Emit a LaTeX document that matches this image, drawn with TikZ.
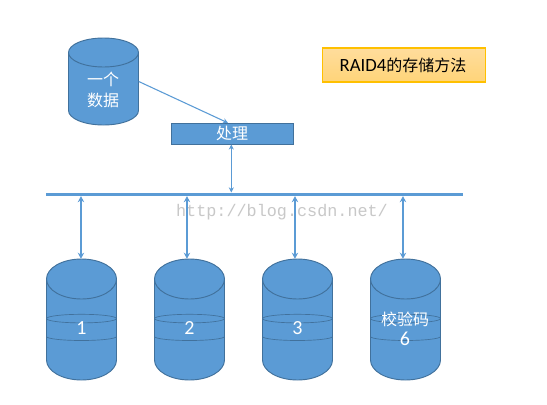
\documentclass[tikz,border=0pt]{standalone}
\usepackage{fontspec}
\setmainfont{Carlito}
\newfontfamily\cjk{Noto Sans CJK SC}
\newfontfamily\wmfont{Liberation Mono}
\usetikzlibrary{arrows.meta, positioning}
\definecolor{diskBlue}{HTML}{5B9BD5}
\definecolor{diskEdge}{HTML}{41719C}
\definecolor{noteEdge}{HTML}{FFC000}
\definecolor{noteTop}{HTML}{FFDD9C}
\definecolor{noteBot}{HTML}{FFD479}
\definecolor{wmGrey}{HTML}{C8C8C8}
\tikzset{
  diskbody/.style = {draw=diskEdge, fill=diskBlue, line width=0.7pt},
  diskslot/.style = {inner sep=0pt, minimum width=52.5pt},
  procbox/.style  = {draw=diskEdge, fill=diskBlue, line width=0.7pt, inner sep=0pt,
                     minimum width=91.5pt, minimum height=15.5pt},
  notebox/.style  = {draw=noteEdge, top color=noteTop, bottom color=noteBot, line width=0.8pt,
                     inner sep=0pt, minimum width=122pt, minimum height=25.5pt},
  busbar/.style   = {fill=diskBlue, inner sep=0pt, minimum width=312.75pt, minimum height=2.4pt},
  bandline/.style = {draw=diskEdge, line width=0.5pt},
  fatlink/.style  = {diskBlue, line width=1.5pt, {Stealth[length=4.5pt,width=4.8pt]}-{Stealth[length=4.5pt,width=4.8pt]}},
  thinlink/.style = {diskBlue, line width=0.8pt, {Stealth[length=3.8pt,width=3.8pt]}-{Stealth[length=3.8pt,width=3.8pt]}},
  lbl/.style      = {text=white, font=\fontsize{15}{17}\selectfont, inner sep=0pt},
  cjklbl/.style   = {text=white, font=\cjk\fontsize{12}{14}\selectfont, inner sep=0pt},
}
% centre x, y of top ellipse, y of bottom ellipse, y radius
\newcommand{\diskshape}[4]{
  \draw[diskbody] (#1-35,#2) arc [start angle=180, end angle=360, x radius=35, y radius=#4]
    -- (#1+35,#3) arc [start angle=0, end angle=180, x radius=35, y radius=#4] -- cycle;
  \draw[diskbody, fill=none] (#1-35,#2) arc [start angle=180, end angle=0, x radius=35, y radius=#4];
}

\begin{document}
\begin{tikzpicture}[x=0.75pt,y=-0.75pt]
  \useasboundingbox (0,0) rectangle (547,404);
  \fill[white] (0,0) rectangle (547,404);
  \node[text=wmGrey, inner sep=0pt, font=\wmfont\fontsize{12.6}{15}\selectfont] (mark) at (282,212) {http://blog.csdn.net/};
  \node[busbar] (bus) at (254.5,194.3) {};
  \diskshape{103.5}{52.5}{110.5}{14.5}
  \node[diskslot, minimum height=65.25pt] (data) at (103.5,81.5) {};
  \node[cjklbl] (datatop) at (103,79) {一个};
  \node[cjklbl] (datalow) at (103,100) {数据};
  \node[procbox] (proc) at (232,133.7) {};
  \node[cjklbl] (proctext) at (232,133.7) {处理};
  \node[notebox] (note) at (403.75,65) {};
  \node[inner sep=0pt, font=\fontsize{14}{16}\selectfont] (notetext) at (403,65)
    {RAID4{\cjk\fontsize{12}{14}\selectfont 的存储方法}};
  % the four disks on the bus
  \foreach \i/\xx/\dx/\txt in {1/81.5/0.4/1, 2/189.5/1.9/2, 3/297.5/1.9/3, 4/405.5/1.9/{}} {
    \diskshape{\xx}{279}{360}{20}
    \node[diskslot, minimum height=90.75pt] (disk\i) at (\xx,319.5) {};
    \draw[bandline] (\xx,318.6) ellipse [x radius=35, y radius=4.3];
    \draw[bandline] (\xx-35,336.5) arc [start angle=180, end angle=0, x radius=35, y radius=4];
    \node[lbl] (num\i) at (\xx,328) {\txt};
    \draw[fatlink] ([xshift=-\dx pt]disk\i.north) -- ([xshift=-\dx pt]disk\i.north |- bus.south);
  }
  \node[cjklbl] (paritytext) at (405,319) {校验码};
  \node[lbl] (paritynum) at (405,339) {6};
  \draw[thinlink, -{Stealth[length=3.8pt,width=3.8pt]}] (data.east) -- ([xshift=-3pt]proc.north);
  \draw[thinlink] ([xshift=-0.5pt]proc.south) -- ([xshift=-0.5pt]proc.south |- bus.north);
\end{tikzpicture}
\end{document}
